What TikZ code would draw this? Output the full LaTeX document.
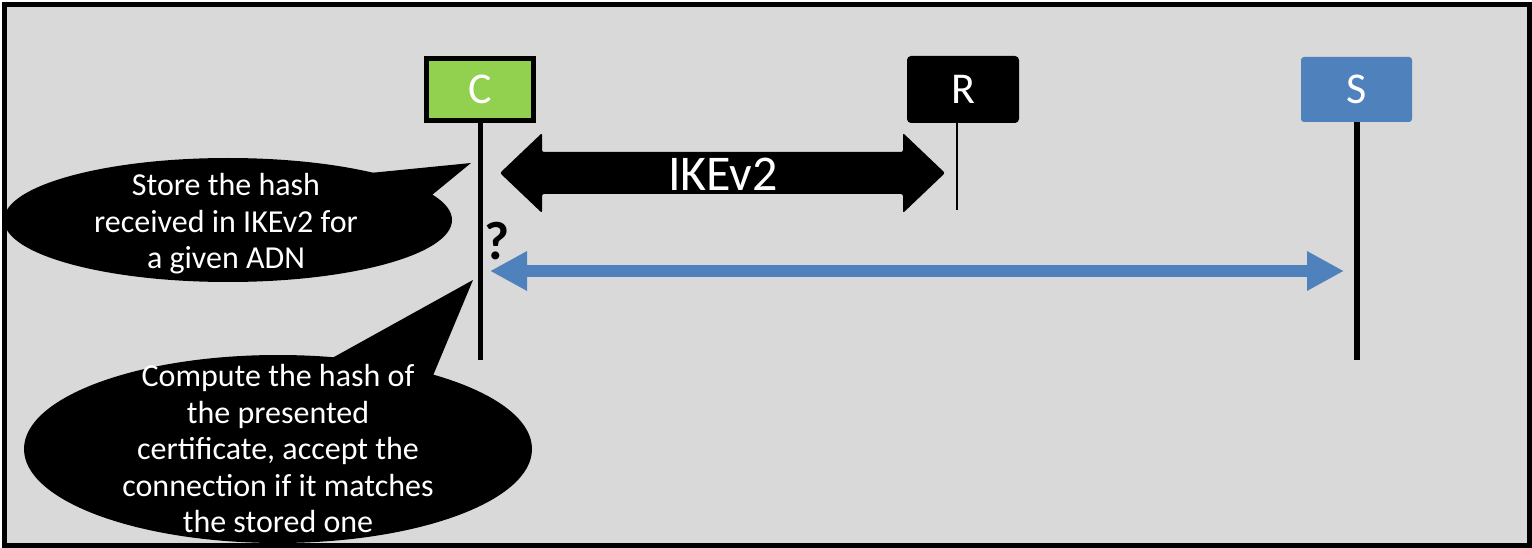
\documentclass[tikz,border=0pt]{standalone}
\usepackage{fontspec}
\setmainfont{Carlito}
\usetikzlibrary{arrows.meta}

\definecolor{panelgrey}{HTML}{D9D9D9}
\definecolor{clientgreen}{HTML}{92D050}
\definecolor{serverblue}{HTML}{4F81BD}

\tikzset{
  actorbox/.style={minimum width=107pt, minimum height=62pt, inner sep=0pt,
    text=white, font=\fontsize{44}{50}\selectfont},
  lifeline/.style={line width=5pt},
  callout/.style={fill=black},
  calltext/.style={text=white, align=center, inner sep=0pt,
    font=\fontsize{32}{36.5}\selectfont},
  bluelink/.style={serverblue, line width=12pt,
    {Triangle[length=37pt,width=37pt]}-{Triangle[length=37pt,width=37pt]}}
}

\begin{document}
\begin{tikzpicture}[x=1pt,y=-1pt]
\useasboundingbox (0,0) rectangle (1532,548);
\fill[panelgrey] (4.5,4.5) rectangle (1529,545);

% actors
\node[actorbox, fill=clientgreen, draw=black, line width=5pt] (C) at (480,89.5) {C};
\node[actorbox, fill=black, draw=black, line width=5pt, rounded corners=2pt] (R) at (963,89.5) {R};
\node[actorbox, fill=serverblue, minimum width=111pt, minimum height=65pt, rounded corners=3pt] (S) at (1356.5,89.5) {S};

% lifelines
\coordinate (Cend) at (480,360);
\coordinate (Rtop) at (957,121);
\coordinate (Rend) at (957,210);
\coordinate (Send) at (1357,360);
\draw[lifeline] (C.south) -- (Cend);
\draw[line width=1.5pt] (Rtop) -- (Rend);
\draw[lifeline, line width=6pt] (S.south -| Send) -- (Send);

% IKEv2 exchange between C and R
\fill[rounded corners=2pt] (500,173) -- (542,133) -- (542,152) -- (903,152) -- (903,133)
  -- (945,173) -- (903,213) -- (903,194) -- (542,194) -- (542,213) -- cycle;
\node[text=white, font=\fontsize{50}{56}\selectfont, inner sep=0pt] (ike) at (723,174) {IKEv2};

% C <-> S connection
\coordinate (blueL) at (490,271);
\coordinate (blueR) at (1344,271);
\draw[bluelink] (blueL) -- (blueR);
\node[font=\bfseries\fontsize{54}{58}\selectfont, inner sep=0pt] (q) at (497.5,241.5) {?};

% callouts
\fill[callout] (228,220) ellipse [x radius=224, y radius=62];
\fill[callout] (360,174) -- (471,163) -- (432,195) -- cycle;
\fill[callout] (278,449) ellipse [x radius=254, y radius=94];
\fill[callout] (325,362) -- (473,280) -- (432,378) -- cycle;

\node[calltext] (t1) at (226,224) {Store the hash\\received in IKEv2 for\\a given ADN};
\node[calltext] (t2) at (278,449) {Compute the hash of\\the presented\\certificate, accept the\\connection if it matches\\the stored one};

% frame
\draw[line width=5pt] (4.5,4.5) rectangle (1529,545);
\end{tikzpicture}
\end{document}
